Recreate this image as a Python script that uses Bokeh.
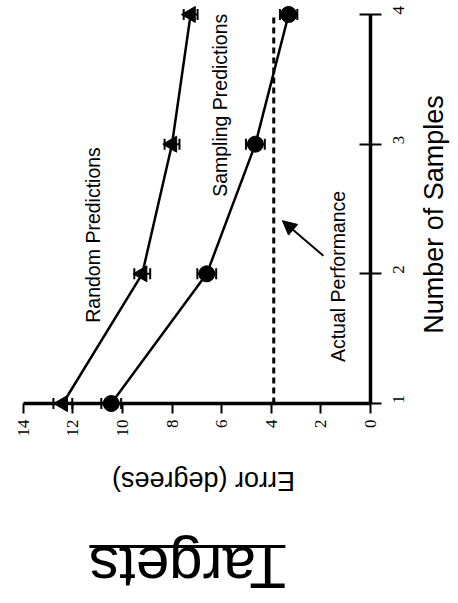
import math
from bokeh.plotting import figure
from bokeh.models import (Range1d, Whisker, TeeHead, Label, Arrow, NormalHead,
                          BoxAnnotation, ColumnDataSource, FixedTicker, LinearAxis)
from bokeh.embed import file_html
from bokeh.resources import INLINE

# ---- data ----
samples = [1, 2, 3, 4]
random_err = [12.4, 9.2, 8.0, 7.25]
random_sd = [0.38, 0.32, 0.3, 0.28]
sampling_err = [10.45, 6.6, 4.64, 3.3]
sampling_sd = [0.4, 0.38, 0.38, 0.35]
actual_perf = 3.9
error_ticks = [0, 2, 4, 6, 8, 10, 12, 14]
sample_ticks = [1, 2, 3, 4]

# annotation anchors (data coordinates)
random_label_pos = (11.17, 2.30)
sampling_label_pos = (6.05, 3.30)
actual_label_pos = (1.33, 1.98)
arrow_tail = (1.9, 2.14)
arrow_head = (3.55, 2.41)
xlabel_pos = (6.73, 0.406)
ylabel_pos = (-2.54, 2.458)
title_pos = (7.376, -0.265)
title_rule = (3.43, 11.33, -0.114, -0.091)

FONT = "Liberation Sans"
SERIF = "Liberation Serif"

p = figure(frame_width=456, frame_height=600,
           x_range=Range1d(14.913, -3.466), y_range=Range1d(-0.519, 4.108),
           output_backend="svg", toolbar_location=None,
           x_axis_location=None, y_axis_location=None,
           min_border_left=0, min_border_top=0, min_border_right=0,
           min_border_bottom=0)
p.outline_line_color = None
for g in p.grid:
    g.visible = False
p.background_fill_color = "white"
p.border_fill_color = "white"

# axes (drawn at the data limits)
xaxis = LinearAxis(fixed_location=1, bounds=(0, 14), ticker=FixedTicker(ticks=error_ticks))
yaxis = LinearAxis(fixed_location=0, bounds=(1, 4), ticker=FixedTicker(ticks=sample_ticks))
for ax in (xaxis, yaxis):
    ax.axis_line_width = 3.5
    ax.axis_line_color = "black"
    ax.major_tick_line_width = 2
    ax.major_tick_line_color = "black"
    ax.minor_tick_in = 0
    ax.minor_tick_out = 0
    ax.major_label_text_font = SERIF
    ax.major_label_text_font_size = "17px"
    ax.major_label_text_color = "black"
    ax.major_label_orientation = math.pi / 2
xaxis.major_tick_in = 0
xaxis.major_tick_out = 10
xaxis.major_label_standoff = 6
yaxis.major_tick_in = 11
yaxis.major_tick_out = 11
yaxis.major_label_standoff = 17

p.add_layout(xaxis, "below")
p.add_layout(yaxis, "right")

# axis titles
p.add_layout(Label(x=xlabel_pos[0], y=xlabel_pos[1], text="Error (degrees)", angle=math.pi,
                   text_align="center", text_baseline="middle",
                   text_font=FONT, text_font_size="27px", text_color="black"))
p.add_layout(Label(x=ylabel_pos[0], y=ylabel_pos[1], text="Number of Samples",
                   angle=math.pi / 2, text_align="center", text_baseline="middle",
                   text_font=FONT, text_font_size="27px", text_color="black"))

# actual performance
p.line([actual_perf, actual_perf], [min(samples), max(samples)], line_width=3,
       line_dash="6 4", color="black")

# series
for err, sd, marker in ((random_err, random_sd, "triangle"),
                        (sampling_err, sampling_sd, "circle")):
    src = ColumnDataSource(dict(x=err, y=samples,
                                lo=[e - s for e, s in zip(err, sd)],
                                hi=[e + s for e, s in zip(err, sd)]))
    p.line("x", "y", source=src, line_width=2.5, color="black")
    p.add_layout(Whisker(source=src, base="y", lower="lo", upper="hi", dimension="width",
                         line_width=2, line_color="black",
                         lower_head=TeeHead(size=11, line_width=2, line_color="black"),
                         upper_head=TeeHead(size=11, line_width=2, line_color="black")))
    p.scatter("x", "y", source=src, marker=marker, size=16,
              angle=(math.pi / 2 if marker == "triangle" else 0),
              fill_color="black", line_color="black")

# texts
for (tx, ty), txt in ((random_label_pos, "Random Predictions"),
                      (sampling_label_pos, "Sampling Predictions"),
                      (actual_label_pos, "Actual Performance")):
    p.add_layout(Label(x=tx, y=ty, text=txt, angle=math.pi / 2, text_align="center",
                       text_baseline="middle", text_font=FONT, text_font_size="19.5px",
                       text_color="black"))

p.add_layout(Arrow(end=NormalHead(size=14, fill_color="black", line_color="black"),
                   x_start=arrow_tail[0], y_start=arrow_tail[1],
                   x_end=arrow_head[0], y_end=arrow_head[1], line_width=2, line_color="black"))

p.add_layout(Label(x=title_pos[0], y=title_pos[1], text="Targets", angle=math.pi,
                   text_align="center", text_baseline="middle", text_font=FONT,
                   text_font_size="60px", text_color="black"))
p.add_layout(BoxAnnotation(left=title_rule[0], right=title_rule[1], bottom=title_rule[2],
                           top=title_rule[3], fill_color="black", fill_alpha=1,
                           line_color=None))

open("out.html", "w").write(file_html(p, INLINE))
